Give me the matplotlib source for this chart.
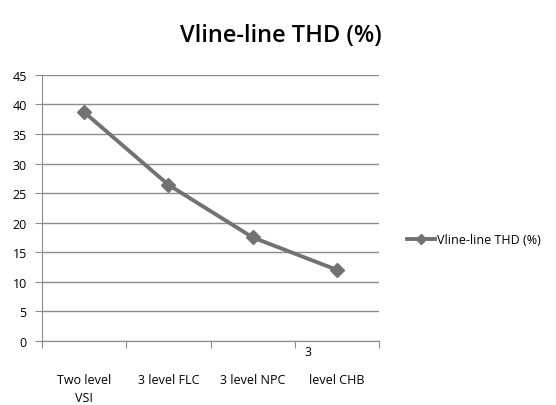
import matplotlib.pyplot as plt
import matplotlib.transforms as mtransforms

# data
categories = ["Two level\nVSI", "3 level FLC", "3 level NPC", "level CHB"]
thd_values = [38.7, 26.4, 17.5, 12.0]
series_name = "Vline-line THD (%)"
yticks = [0, 5, 10, 15, 20, 25, 30, 35, 40, 45]

plt.rcParams['font.family'] = ['Open Sans', 'DejaVu Sans']

fig = plt.figure(figsize=(5.56, 4.06), dpi=100)
ax = fig.add_axes([0.0755, 0.158, 0.6065, 0.655])

xs = list(range(len(categories)))
ax.plot(xs, thd_values, color='#727272', linewidth=2.8, marker='D',
        markersize=7, markerfacecolor='#727272', markeredgecolor='#727272',
        label=series_name)

ax.set_xlim(-0.5, len(categories) - 0.5)
ax.set_ylim(0, 45)
ax.set_yticks(yticks)
ax.set_yticklabels([str(v) for v in yticks], fontsize=9)
ax.yaxis.grid(True, color='#8c8c8c', linewidth=1)
ax.set_axisbelow(True)

# category boundaries as tick marks
ax.set_xticks([x - 0.5 for x in xs] + [len(categories) - 0.5])
ax.set_xticklabels([])
ax.tick_params(axis='x', direction='out', length=5, color='#8c8c8c')
ax.tick_params(axis='y', direction='out', length=5, color='#8c8c8c', pad=6)

for side in ['top', 'right']:
    ax.spines[side].set_visible(False)
ax.spines['left'].set_color('#8c8c8c')
ax.spines['bottom'].set_color('#8c8c8c')

# category labels
trans = mtransforms.blended_transform_factory(ax.transData, fig.transFigure)
for x, lab in zip(xs, categories):
    ax.text(x, 1 - 374 / 406, lab, transform=trans, ha='center', va='top',
            fontsize=9, linespacing=1.5)
ax.text(2.65, 1 - 346 / 406, "3", transform=trans, ha='center', va='top',
        fontsize=9)

fig.text(0.506, 1 - 36 / 406, "Vline-line THD (%)", ha='center', va='center',
         fontsize=17, fontweight='semibold')

fig.legend(loc='center left', bbox_to_anchor=(0.712, 1 - 241 / 406),
           frameon=False, fontsize=9, handlelength=2.2, handletextpad=0.2,
           markerscale=0.75)

fig.savefig('out.png', dpi=100)
